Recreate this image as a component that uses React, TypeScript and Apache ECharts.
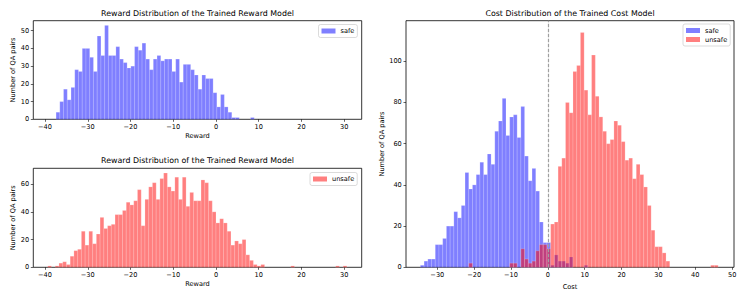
import React, { useEffect, useRef } from "react";
import * as echarts from "echarts";

const FONT = "DejaVu Sans";

// Reward histograms (bin width ~0.875)
const rewardBinWidth = 0.875;
const rewardSafeStart = -37.42;
const rewardSafeCounts = [
  4, 10, 17, 11, 18, 28, 27, 40, 40, 35,
  27, 47, 36, 53, 36, 36, 41, 34, 32, 29,
  30, 41, 39, 43, 34, 28, 34, 36, 33, 34,
  34, 27, 34, 21, 31, 31, 28, 25, 17, 25,
  23, 23, 15, 7, 14, 7, 4, 1, 1, 0,
  0, 0, 1,
];
const rewardUnsafeStart = -39.37;
const rewardUnsafeCounts = [
  1, 0, 1, 3, 4, 2, 8, 12, 13, 26,
  16, 26, 17, 24, 36, 28, 30, 31, 38, 38,
  41, 47, 45, 48, 56, 30, 49, 58, 61, 49,
  64, 68, 58, 55, 65, 49, 65, 44, 54, 48,
  48, 63, 61, 48, 40, 32, 35, 32, 26, 16,
  19, 17, 20, 9, 5, 2, 1, 2, 0, 0,
  0, 0, 0, 0, 0, 1, 0, 0, 0, 0,
  0, 0, 0, 0, 0, 0, 0, 1, 0, 1,
];

// Cost histograms (shared bins, width ~1.01)
const costBinStart = -34.6;
const costBinWidth = 1.01;
const costSafeCounts = [
  1, 3, 4, 4, 11, 11, 14, 20, 20, 27,
  24, 30, 46, 38, 40, 45, 51, 45, 55, 50,
  66, 71, 82, 64, 73, 74, 63, 78, 54, 42,
  48, 37, 22, 12, 12, 1, 6, 3, 3, 2,
  5, 0, 0, 0, 1, 0, 0, 0, 0, 0,
  0, 0, 0, 0, 0, 0, 0, 0, 0, 0,
  0, 0, 0, 0, 0, 0, 0, 0, 0, 0,
  0, 0, 0, 0, 0, 0, 0, 0, 0, 0,
];
const costUnsafeCounts = [
  0, 0, 0, 0, 0, 0, 0, 0, 0, 0,
  0, 0, 0, 2, 0, 0, 0, 0, 0, 0,
  0, 0, 0, 0, 2, 2, 0, 9, 4, 2,
  3, 8, 11, 11, 9, 21, 22, 49, 53, 80,
  75, 95, 98, 114, 86, 74, 103, 83, 73, 66,
  60, 62, 71, 69, 61, 52, 53, 43, 50, 45,
  39, 30, 18, 10, 10, 7, 3, 0, 0, 0,
  0, 0, 0, 0, 0, 0, 0, 0, 1, 1,
];
const costThreshold = 0;

const rewardTicks = [-40, -30, -20, -10, 0, 10, 20, 30];
const costTicks = [-30, -20, -10, 0, 10, 20, 30, 40, 50];
const safeRewardYTicks = [0, 10, 20, 30, 40, 50];
const unsafeRewardYTicks = [0, 20, 40, 60];
const costYTicks = [0, 20, 40, 60, 80, 100];

const titleReward = "Reward Distribution of the Trained Reward Model";
const titleCost = "Cost Distribution of the Trained Cost Model";

const BLUE = "rgba(0,0,255,0.5)";
const RED = "rgba(255,0,0,0.5)";

function toBins(start: number, width: number, counts: number[]) {
  const out: number[][] = [];
  counts.forEach((c, k) => {
    if (c > 0) out.push([start + k * width, start + (k + 1) * width, c]);
  });
  return out;
}

const fmt = (v: number) => String(v).replace("-", "\u2212");

function histSeries(name: string, idx: number, data: number[][], color: string, extra: any = {}) {
  return {
    type: "custom",
    name,
    xAxisIndex: idx,
    yAxisIndex: idx,
    itemStyle: { color },
    encode: { x: [0, 1], y: 2 },
    data,
    renderItem: (params: any, api: any) => {
      const p0 = api.coord([api.value(0), api.value(2)]);
      const p1 = api.coord([api.value(1), 0]);
      return {
        type: "rect",
        shape: { x: p0[0], y: p0[1], width: p1[0] - p0[0], height: p1[1] - p0[1] },
        style: { fill: color, stroke: "rgba(255,255,255,0.35)", lineWidth: 0.5 },
      };
    },
    ...extra,
  };
}

export default function App() {
  const ref = useRef<HTMLDivElement>(null);
  useEffect(() => {
    if (!ref.current) return;
    const chart = echarts.init(ref.current, undefined, { renderer: "svg" });
    const txt = { color: "#000", fontFamily: FONT, fontSize: 6.6 };
    const xAxisBase = (gridIndex: number, min: number, max: number, ticks: number[], name: string) => ({
      type: "value",
      gridIndex,
      min,
      max,
      axisLine: { show: false, onZero: false },
      axisTick: { show: true, length: 2.5, customValues: ticks, lineStyle: { color: "#000", width: 0.6 } },
      axisLabel: { ...txt, margin: 4.2, customValues: ticks, formatter: fmt },
      splitLine: { show: false },
      name,
      nameLocation: "middle",
      nameGap: 17,
      nameTextStyle: { ...txt, verticalAlign: "middle" },
    });
    const yAxisBase = (gridIndex: number, max: number, ticks: number[], gap: number) => ({
      type: "value",
      gridIndex,
      min: 0,
      max,
      axisLine: { show: false, onZero: false },
      axisTick: { show: true, length: 2.5, customValues: ticks, lineStyle: { color: "#000", width: 0.6 } },
      axisLabel: { ...txt, margin: 4.2, customValues: ticks, formatter: fmt },
      splitLine: { show: false },
      name: "Number of QA pairs",
      nameLocation: "middle",
      nameGap: gap,
      nameTextStyle: { ...txt, verticalAlign: "middle" },
    });
    const legendBase = {
      icon: "rect",
      itemWidth: 14,
      itemHeight: 5,
      padding: [3, 3, 3, 3],
      borderColor: "#cccccc",
      borderWidth: 0.7,
      borderRadius: 2,
      backgroundColor: "rgba(255,255,255,0.8)",
      textStyle: { ...txt },
      itemStyle: { borderWidth: 0 },
      selectedMode: false,
    };
    const titleBase = (text: string, left: number, top: number) => ({
      text,
      left,
      top,
      padding: 0,
      textAlign: "center",
      textStyle: { color: "#000", fontFamily: FONT, fontSize: 7.9, fontWeight: "normal" },
    });
    chart.setOption({
      animation: false,
      backgroundColor: "#fff",
      title: [
        titleBase(titleReward, 197.5, 9.8),
        titleBase(titleReward, 197.5, 156.8),
        titleBase(titleCost, 570, 9.8),
      ],
      grid: [
        { left: 33.3, top: 20.7, width: 328.4, height: 98.6, show: true, borderColor: "#000", borderWidth: 0.8 },
        { left: 33.3, top: 168.3, width: 328.4, height: 99, show: true, borderColor: "#000", borderWidth: 0.8 },
        { left: 406, top: 20.7, width: 328, height: 246.6, show: true, borderColor: "#000", borderWidth: 0.8 },
      ],
      xAxis: [
        xAxisBase(0, -42.75, 34.1, rewardTicks, "Reward"),
        xAxisBase(1, -42.75, 34.1, rewardTicks, "Reward"),
        xAxisBase(2, -38.5, 50.5, costTicks, "Cost"),
      ],
      yAxis: [
        yAxisBase(0, 55.65, safeRewardYTicks, 18),
        yAxisBase(1, 71.4, unsafeRewardYTicks, 18),
        yAxisBase(2, 119.7, costYTicks, 23.5),
      ],
      legend: [
        { ...legendBase, data: ["safe"], left: 318.5, top: 24.5 },
        { ...legendBase, data: ["unsafe"], left: 310, top: 172.5 },
        { ...legendBase, data: ["safe", "unsafe"], left: 683, top: 24, orient: "vertical", itemGap: 2 },
      ],
      series: [
        histSeries("safe", 0, toBins(rewardSafeStart, rewardBinWidth, rewardSafeCounts), BLUE),
        histSeries("unsafe", 1, toBins(rewardUnsafeStart, rewardBinWidth, rewardUnsafeCounts), RED),
        histSeries("safe", 2, toBins(costBinStart, costBinWidth, costSafeCounts), BLUE),
        histSeries("unsafe", 2, toBins(costBinStart, costBinWidth, costUnsafeCounts), RED, {
          markLine: {
            silent: true,
            symbol: ["none", "none"],
            label: { show: false },
            lineStyle: { type: [3.5, 1.5], color: "#a0a0a0", width: 1.2 },
            data: [{ xAxis: costThreshold }],
          },
        }),
      ],
    });
    return () => chart.dispose();
  }, []);
  return (
    <div
      ref={ref}
      style={{ position: "absolute", left: 0, top: 0, width: 747, height: 299 }}
    />
  );
}
